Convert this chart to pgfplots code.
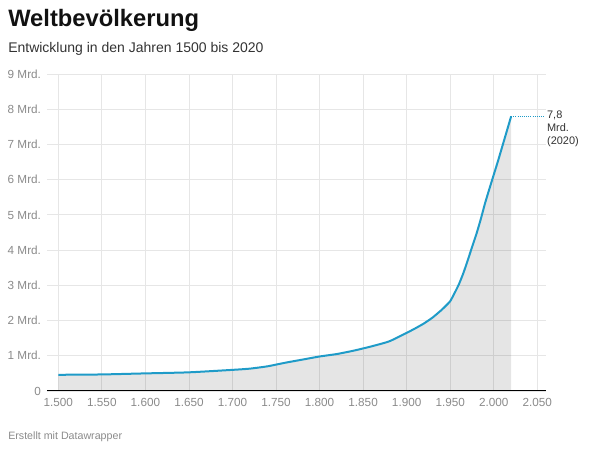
\documentclass[border=0pt]{standalone}
\usepackage{pgfplots}
\pgfplotsset{compat=1.18}
\usepackage{fontspec}
\setmainfont{Liberation Sans}
\definecolor{lineblue}{HTML}{1F9BC8}
\definecolor{ticklab}{HTML}{8A8A8A}
\definecolor{gridc}{HTML}{E6E6E6}
\definecolor{titlec}{HTML}{111111}
\definecolor{subc}{HTML}{333333}
\pgfplotstableread{
year pop
1500 0.46
1550 0.47
1600 0.50
1650 0.53
1700 0.60
1720 0.635
1740 0.70
1760 0.80
1780 0.89
1800 0.98
1820 1.05
1840 1.15
1860 1.27
1880 1.41
1900 1.65
1910 1.78
1920 1.92
1930 2.09
1940 2.30
1945 2.42
1950 2.55
1955 2.78
1960 3.03
1965 3.34
1970 3.70
1975 4.08
1980 4.45
1985 4.87
1990 5.33
1995 5.74
2000 6.14
2005 6.54
2010 6.96
2015 7.38
2020 7.80
}\popdata
\begin{document}
\begin{tikzpicture}
\path[use as bounding box] (0,0) rectangle (450pt,337.5pt);
\node[anchor=base west, inner sep=0pt, font=\fontsize{17.8pt}{20pt}\selectfont\bfseries, text=titlec] at (6pt,317.5pt) {Weltbevölkerung};
\node[anchor=base west, inner sep=0pt, font=\fontsize{10.5pt}{12pt}\selectfont, text=subc] at (6pt,297.8pt) {Entwicklung in den Jahren 1500 bis 2020};
\node[anchor=base west, inner sep=0pt, font=\fontsize{8pt}{9pt}\selectfont, text=ticklab] at (6pt,8pt) {Erstellt mit Datawrapper};
\begin{axis}[
  at={(35.25pt,44.25pt)}, anchor=south west,
  scale only axis, width=374.25pt, height=237.75pt,
  xmin=1487, xmax=2060, ymin=0, ymax=9,
  axis x line*=bottom, axis y line*=left,
  x axis line style={-, black, line width=0.75pt},
  y axis line style={draw=none},
  xtick={1500,1550,...,2050},
  xticklabels={1.500,1.550,1.600,1.650,1.700,1.750,1.800,1.850,1.900,1.950,2.000,2.050},
  ytick={0,1,...,9},
  yticklabels={0,1 Mrd.,2 Mrd.,3 Mrd.,4 Mrd.,5 Mrd.,6 Mrd.,7 Mrd.,8 Mrd.,9 Mrd.},
  major tick length=0pt,
  tick label style={font=\fontsize{8.8pt}{10pt}\selectfont, text=ticklab},
  /pgf/number format/assume math mode=true,
  xticklabel style={yshift=-2pt},
  yticklabel style={anchor=east, xshift=-1pt},
  grid=major, major grid style={gridc, line width=0.6pt},
  clip=false,
]
\addplot[draw=none, fill=black, fill opacity=0.1] table[x=year, y=pop] {\popdata} \closedcycle;
\addplot[lineblue, line width=1.5pt, smooth, tension=0.35] table[x=year, y=pop] {\popdata};
\addplot[lineblue, line width=0.6pt, densely dotted] coordinates {(2020,7.8) (2057,7.8)};
\node[anchor=north west, align=left, inner sep=0pt, font=\fontsize{8.2pt}{9.8pt}\selectfont, text=subc] at (axis cs:2061,7.96) {7,8\\Mrd.\\(2020)};
\end{axis}
\end{tikzpicture}
\end{document}
